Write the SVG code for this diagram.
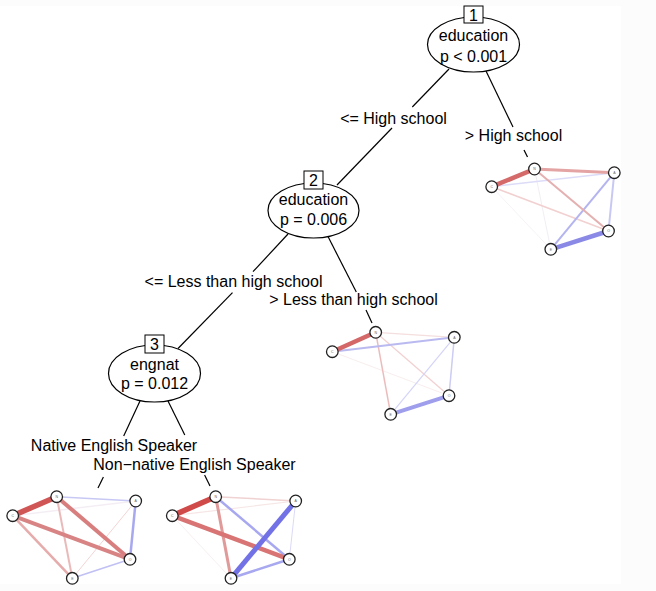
<svg xmlns="http://www.w3.org/2000/svg" width="656" height="591" viewBox="0 0 656 591">
<style>
text{font-family:"Liberation Sans",Arial,sans-serif;fill:#000}
.lab{font-size:16px;text-anchor:middle}
.num{font-size:16px;text-anchor:middle}
.ell{fill:#fff;stroke:#000;stroke-width:1.2}
.box{fill:#fff;stroke:#000;stroke-width:1}
.edge{stroke:#000;stroke-width:1.2;fill:none}
.nw line{fill:none;stroke-linecap:butt}
.nw circle{fill:#fff;stroke:#222;stroke-width:1.3}
.nw text{font-size:3.5px;text-anchor:middle;fill:#666}
</style>
<rect x="0" y="0" width="656" height="591" fill="#fcfcfc"/>
<rect x="0" y="6" width="621" height="578" fill="#fff"/>

<g id="connectors">
  <line class="edge" x1="449" y1="69" x2="412.3" y2="107"/>
  <line class="edge" x1="392" y1="128" x2="337" y2="185"/>
  <text class="lab" x="393.5" y="123.5">&lt;= High school</text>
  <line class="edge" x1="486" y1="71" x2="513" y2="127"/>
  <line class="edge" x1="524" y1="150" x2="527.5" y2="157"/>
  <text class="lab" x="513.5" y="140.5">&gt; High school</text>
  <line class="edge" x1="288" y1="234" x2="253" y2="271.7"/>
  <line class="edge" x1="232.5" y1="292.7" x2="178" y2="348.5"/>
  <text class="lab" x="233.5" y="286.5">&lt;= Less than high school</text>
  <line class="edge" x1="328" y1="236.6" x2="356.3" y2="292"/>
  <line class="edge" x1="366" y1="310" x2="372" y2="323"/>
  <text class="lab" x="353.5" y="304.5">&gt; Less than high school</text>
  <line class="edge" x1="140" y1="401" x2="123.7" y2="436"/>
  <line class="edge" x1="103.4" y1="477" x2="98" y2="488"/>
  <text class="lab" x="114" y="451">Native English Speaker</text>
  <line class="edge" x1="168" y1="401" x2="184.8" y2="435"/>
  <line class="edge" x1="204.6" y1="475" x2="210" y2="486"/>
  <text class="lab" x="194.5" y="469.5">Non−native English Speaker</text>
</g>

<g id="node1">
  <ellipse class="ell" cx="473.5" cy="44.5" rx="46" ry="27.5"/>
  <rect class="box" x="464" y="6" width="19" height="17"/>
  <text class="num" x="473.5" y="20.5">1</text>
  <text class="lab" x="473.5" y="41">education</text>
  <text class="lab" x="473.5" y="61.5">p &lt; 0.001</text>
</g>

<g id="node2">
  <ellipse class="ell" cx="313.5" cy="210.5" rx="45.5" ry="27.5"/>
  <rect class="box" x="304" y="171" width="19" height="18"/>
  <text class="num" x="313.5" y="186">2</text>
  <text class="lab" x="313.5" y="205">education</text>
  <text class="lab" x="313.5" y="224.5">p = 0.006</text>
</g>

<g id="node3">
  <ellipse class="ell" cx="154.5" cy="373.5" rx="46" ry="28.5"/>
  <rect class="box" x="145" y="335" width="19" height="18"/>
  <text class="num" x="154.5" y="350">3</text>
  <text class="lab" x="154.5" y="369.5">engnat</text>
  <text class="lab" x="154.5" y="388.5">p = 0.012</text>
</g>

<g id="term7" class="nw">
  <line x1="491.7" y1="186.7" x2="550.8" y2="249.3" stroke="#f6f2f6" stroke-width="1"/>
  <line x1="534.5" y1="169" x2="550.8" y2="249.3" stroke="#f2eef4" stroke-width="1"/>
  <line x1="491.7" y1="186.7" x2="614.3" y2="172.7" stroke="#dcdcf8" stroke-width="1.5"/>
  <line x1="491.7" y1="186.7" x2="608.5" y2="231" stroke="#f2d0d0" stroke-width="1.5"/>
  <line x1="614.3" y1="172.7" x2="608.5" y2="231" stroke="#c8c8f4" stroke-width="2"/>
  <line x1="614.3" y1="172.7" x2="550.8" y2="249.3" stroke="#b4b4f0" stroke-width="2"/>
  <line x1="534.5" y1="169" x2="608.5" y2="231" stroke="#e4b0b0" stroke-width="2"/>
  <line x1="534.5" y1="169" x2="614.3" y2="172.7" stroke="#e4a4a4" stroke-width="3"/>
  <line x1="491.7" y1="186.7" x2="534.5" y2="169" stroke="#d46a6a" stroke-width="4.5"/>
  <line x1="550.8" y1="249.3" x2="608.5" y2="231" stroke="#8a8ae6" stroke-width="4.5"/>
  <circle cx="534.5" cy="169" r="5.8"/><text x="534.5" y="170.3">N</text>
  <circle cx="614.3" cy="172.7" r="5.8"/><text x="614.3" y="174">A</text>
  <circle cx="491.7" cy="186.7" r="5.8"/><text x="491.7" y="188">C</text>
  <circle cx="608.5" cy="231" r="5.8"/><text x="608.5" y="232.3">O</text>
  <circle cx="550.8" cy="249.3" r="5.8"/><text x="550.8" y="250.6">E</text>
</g>

<g id="term6" class="nw">
  <line x1="332.3" y1="351.7" x2="449" y2="395.7" stroke="#f8eeee" stroke-width="1"/>
  <line x1="375.7" y1="332.3" x2="454.3" y2="337.3" stroke="#f4dede" stroke-width="1.2"/>
  <line x1="375.7" y1="332.3" x2="449" y2="395.7" stroke="#f2d0d0" stroke-width="1.2"/>
  <line x1="454.3" y1="337.3" x2="390.7" y2="414.3" stroke="#d4d4f8" stroke-width="1.2"/>
  <line x1="454.3" y1="337.3" x2="449" y2="395.7" stroke="#ccccf4" stroke-width="1.5"/>
  <line x1="375.7" y1="332.3" x2="390.7" y2="414.3" stroke="#ecbcbc" stroke-width="1.5"/>
  <line x1="332.3" y1="351.7" x2="454.3" y2="337.3" stroke="#babaf0" stroke-width="2"/>
  <line x1="332.3" y1="351.7" x2="375.7" y2="332.3" stroke="#d46868" stroke-width="4.5"/>
  <line x1="390.7" y1="414.3" x2="449" y2="395.7" stroke="#9e9eec" stroke-width="4"/>
  <circle cx="375.7" cy="332.3" r="5.8"/><text x="375.7" y="333.6">N</text>
  <circle cx="454.3" cy="337.3" r="5.8"/><text x="454.3" y="338.6">A</text>
  <circle cx="332.3" cy="351.7" r="5.8"/><text x="332.3" y="353">C</text>
  <circle cx="449" cy="395.7" r="5.8"/><text x="449" y="397">O</text>
  <circle cx="390.7" cy="414.3" r="5.8"/><text x="390.7" y="415.6">E</text>
</g>

<g id="term4" class="nw">
  <line x1="12.7" y1="515.7" x2="135.7" y2="501" stroke="#f4eef4" stroke-width="1.5"/>
  <line x1="135.7" y1="501" x2="72.3" y2="578.3" stroke="#f4d4d4" stroke-width="1"/>
  <line x1="56.7" y1="496.7" x2="135.7" y2="501" stroke="#c8c8f4" stroke-width="1.5"/>
  <line x1="72.3" y1="578.3" x2="130" y2="559.3" stroke="#c0c0f4" stroke-width="1.5"/>
  <line x1="56.7" y1="496.7" x2="72.3" y2="578.3" stroke="#eababa" stroke-width="2"/>
  <line x1="12.7" y1="515.7" x2="72.3" y2="578.3" stroke="#e6acac" stroke-width="2.5"/>
  <line x1="135.7" y1="501" x2="130" y2="559.3" stroke="#a8a8f0" stroke-width="2.5"/>
  <line x1="56.7" y1="496.7" x2="130" y2="559.3" stroke="#d87e7e" stroke-width="4"/>
  <line x1="12.7" y1="515.7" x2="130" y2="559.3" stroke="#d88484" stroke-width="4"/>
  <line x1="12.7" y1="515.7" x2="56.7" y2="496.7" stroke="#d05656" stroke-width="5.5"/>
  <circle cx="56.7" cy="496.7" r="5.8"/><text x="56.7" y="498">N</text>
  <circle cx="135.7" cy="501" r="5.8"/><text x="135.7" y="502.3">A</text>
  <circle cx="12.7" cy="515.7" r="5.8"/><text x="12.7" y="517">C</text>
  <circle cx="130" cy="559.3" r="5.8"/><text x="130" y="560.6">O</text>
  <circle cx="72.3" cy="578.3" r="5.8"/><text x="72.3" y="579.6">E</text>
</g>

<g id="term5" class="nw">
  <line x1="172.3" y1="515.7" x2="231" y2="578.3" stroke="#f8f0f0" stroke-width="1"/>
  <line x1="172.3" y1="515.7" x2="295.7" y2="501" stroke="#f6e6e6" stroke-width="1.2"/>
  <line x1="295.7" y1="501" x2="289.3" y2="559.3" stroke="#dadaf8" stroke-width="1"/>
  <line x1="215.7" y1="496.7" x2="295.7" y2="501" stroke="#f0d2d2" stroke-width="1.5"/>
  <line x1="215.7" y1="496.7" x2="289.3" y2="559.3" stroke="#a8a8f0" stroke-width="2.5"/>
  <line x1="231" y1="578.3" x2="289.3" y2="559.3" stroke="#a8a8f0" stroke-width="2.5"/>
  <line x1="215.7" y1="496.7" x2="231" y2="578.3" stroke="#e09a9a" stroke-width="3"/>
  <line x1="172.3" y1="515.7" x2="289.3" y2="559.3" stroke="#d87474" stroke-width="4.5"/>
  <line x1="295.7" y1="501" x2="231" y2="578.3" stroke="#7272e6" stroke-width="5"/>
  <line x1="172.3" y1="515.7" x2="215.7" y2="496.7" stroke="#d04a4a" stroke-width="5.5"/>
  <circle cx="215.7" cy="496.7" r="5.8"/><text x="215.7" y="498">N</text>
  <circle cx="295.7" cy="501" r="5.8"/><text x="295.7" y="502.3">A</text>
  <circle cx="172.3" cy="515.7" r="5.8"/><text x="172.3" y="517">C</text>
  <circle cx="289.3" cy="559.3" r="5.8"/><text x="289.3" y="560.6">O</text>
  <circle cx="231" cy="578.3" r="5.8"/><text x="231" y="579.6">E</text>
</g>
</svg>
